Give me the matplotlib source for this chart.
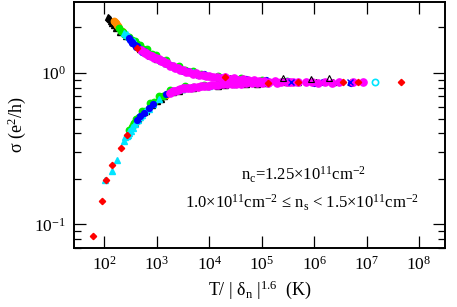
import matplotlib
matplotlib.use("Agg")
import matplotlib.pyplot as plt
from matplotlib.ticker import LogLocator, NullLocator, LogFormatterMathtext

plt.rcParams['font.family'] = ['Liberation Serif', 'DejaVu Serif']
plt.rcParams['mathtext.fontset'] = 'custom'
plt.rcParams['mathtext.rm'] = 'Liberation Serif'
plt.rcParams['mathtext.it'] = 'Liberation Serif:italic'
plt.rcParams['mathtext.bf'] = 'Liberation Serif:bold'

# ---------------- data ----------------
black_x = [118, 122, 127, 133, 140, 150, 170, 200, 260, 350, 480, 700, 1000, 1500, 2200, 3500, 6000,
           1.1e4, 2.5e4, 6e4, 1.3e5, 2.6e5, 5e5, 1.1e6, 2.3e6, 5e6,
           400, 430, 460, 500, 560, 650, 800, 1000, 1400, 2000, 3000, 5000, 9000, 2e4, 5e4, 1.2e5, 3e5,
           380, 420, 620, 1200, 2600, 1.5e4, 8e4]
black_y = [2.33, 2.30, 2.26, 2.21, 2.15, 2.08, 1.97, 1.88, 1.76, 1.60, 1.44, 1.33, 1.24, 1.17, 1.10, 1.04, 0.99,
           0.955, 0.93, 0.905, 0.89, 0.88, 0.872, 0.87, 0.868, 0.867,
           0.49, 0.50, 0.515, 0.53, 0.55, 0.575, 0.61, 0.655, 0.70, 0.745, 0.78, 0.80, 0.815, 0.832, 0.848, 0.858, 0.868,
           0.47, 0.49, 0.56, 0.67, 0.76, 0.82, 0.85]

orange_x = [150, 160, 165, 175, 180, 220, 400, 900, 3000, 2e4, 350, 380, 1500, 6000]
orange_y = [2.22, 2.18, 2.14, 2.09, 2.05, 1.90, 1.52, 1.28, 1.05, 0.94, 0.45, 0.47, 0.72, 0.81]

green_x = [190, 210, 240, 280, 330, 420, 550, 800, 1200, 2000, 3500, 7000, 1.5e4, 4e4, 1e5, 3e5,
           230, 300, 380, 480, 650, 950, 1500, 2600, 5000,
           300, 330, 370, 450, 600, 900, 1300, 2500, 5000, 8000, 1.5e4, 3e4, 7e4,
           400, 520, 750, 1100, 1800, 3500]
green_y = [1.98, 1.90, 1.82, 1.74, 1.66, 1.55, 1.45, 1.34, 1.22, 1.12, 1.05, 0.99, 0.955, 0.92, 0.90, 0.88,
           1.87, 1.73, 1.62, 1.53, 1.43, 1.32, 1.21, 1.12, 1.03,
           0.42, 0.44, 0.47, 0.51, 0.56, 0.64, 0.70, 0.77, 0.81, 0.83, 0.84, 0.85, 0.86,
           0.50, 0.56, 0.63, 0.70, 0.77, 0.82]

cyan_x = [240, 260, 290, 320, 1500, 5000, 2e4, 270, 360,
          105, 138, 172, 237, 280, 300, 320, 350, 390, 440, 520, 700, 1100, 3000, 1e4,
          250, 265, 300, 340, 410, 480, 600, 850]
cyan_y = [1.83, 1.78, 1.72, 1.67, 1.16, 1.01, 0.94, 1.80, 1.62,
          0.196, 0.225, 0.266, 0.357, 0.39, 0.40, 0.415, 0.435, 0.46, 0.49, 0.525, 0.58, 0.67, 0.78, 0.82,
          0.375, 0.385, 0.415, 0.44, 0.48, 0.51, 0.56, 0.62]

blue_x = [290, 310, 340, 380, 420, 480, 560, 650, 800, 1000, 1300, 1800, 2500, 4000, 8000, 2e4, 5e4,
          1.2e5, 3e5, 7e5, 1.5e6, 3e6, 5e6,
          330, 400, 520, 720, 900, 1150, 1600, 2200, 3200, 6000, 1.4e4, 3.5e4, 2e5, 1e6,
          420, 480, 700, 1500, 4000, 1e4, 3e4, 560, 850, 2500]
blue_y = [1.70, 1.66, 1.60, 1.54, 1.50, 1.44, 1.39, 1.35, 1.30, 1.25, 1.19, 1.13, 1.08, 1.03, 0.98, 0.94, 0.915,
          0.895, 0.88, 0.872, 0.868, 0.866, 0.865,
          1.58, 1.48, 1.38, 1.30, 1.25, 1.20, 1.14, 1.08, 1.03, 0.975, 0.935, 0.905, 0.87, 0.862,
          0.49, 0.52, 0.59, 0.73, 0.80, 0.825, 0.845, 0.54, 0.62, 0.77]

magenta_x = [500, 560, 630, 720, 820, 950, 1100, 1300, 1600, 2000, 2500, 3200, 4200, 5500, 7500, 1e4,
             1.4e4, 2e4, 3e4, 4.5e4, 7e4, 1.1e5, 1.8e5, 3e5, 5e5, 9e5, 1.6e6, 3e6, 5.5e6, 8.6e6,
             600, 680, 780, 900, 1050, 1200, 1450, 1800, 2250, 2800, 3600, 4800, 6500, 8700, 1.2e4, 1.7e4,
             2.5e4, 3.7e4, 5.5e4, 9e4, 1.4e5, 2.3e5, 4e5, 7e5, 1.2e6, 2.2e6,
             1800, 2200, 2800, 3500, 4500, 6000, 8000, 1.1e4, 1.5e4, 2.2e4, 3.2e4, 5e4, 8e4, 1.3e5, 2e5, 3.5e5,
             2000, 2500, 3100, 4000, 5200, 7000, 9500, 1.3e4, 1.8e4, 2.7e4, 4e4, 6.5e4, 1e5]
magenta_y = [1.41, 1.38, 1.35, 1.32, 1.29, 1.26, 1.23, 1.20, 1.16, 1.12, 1.08, 1.05, 1.02, 0.995, 0.975, 0.96,
             0.945, 0.935, 0.92, 0.91, 0.90, 0.89, 0.88, 0.875, 0.87, 0.868, 0.867, 0.866, 0.866, 0.866,
             1.36, 1.32, 1.29, 1.26, 1.23, 1.20, 1.16, 1.12, 1.08, 1.05, 1.02, 0.99, 0.965, 0.95, 0.935, 0.925,
             0.915, 0.905, 0.895, 0.885, 0.878, 0.872, 0.868, 0.866, 0.865, 0.865,
             0.74, 0.76, 0.78, 0.79, 0.80, 0.81, 0.82, 0.83, 0.835, 0.842, 0.848, 0.853, 0.858, 0.862, 0.865, 0.867,
             0.76, 0.775, 0.79, 0.80, 0.81, 0.82, 0.826, 0.833, 0.84, 0.846, 0.852, 0.857, 0.861]

red_x = [62, 89, 107, 138, 206, 268, 415, 2e4, 1.3e5, 5e5, 3.5e6, 7e6, 4.6e7]
red_y = [0.084, 0.143, 0.196, 0.246, 0.318, 0.389, 1.46, 0.94, 0.865, 0.868, 0.866, 0.866, 0.867]

bluex_x = [3.7e5, 4.8e6]
bluex_y = [0.868, 0.867]

cyanring_x = [1.45e7]
cyanring_y = [0.867]

blackopen_x = [2.6e5, 8.7e5, 1.9e6]
blackopen_y = [0.92, 0.915, 0.92]

x_ticks = [1e2, 1e3, 1e4, 1e5, 1e6, 1e7, 1e8]
y_ticks = [1e-1, 1e0]
label_nc = r'n$_\mathrm{c}$=1.25×10$^{11}$cm$^{-2}$'
label_ns = r'1.0×10$^{11}$cm$^{-2}$ ≤ n$_\mathrm{s}$ < 1.5×10$^{11}$cm$^{-2}$'

# ---------------- figure ----------------
fig = plt.figure(figsize=(4.57, 3.07), dpi=100)
ax = fig.add_axes([74 / 457, 1 - 247.7 / 307, (445 - 74) / 457, (247.7 - 1.7) / 307])

ms = 4.6
ax.plot(black_x, black_y, ls='none', marker='^', ms=ms, color='black')
ax.plot(orange_x, orange_y, ls='none', marker='o', ms=ms, color='#ff8c00')
ax.plot(green_x, green_y, ls='none', marker='o', ms=ms, color='#00ee00')
ax.plot(cyan_x, cyan_y, ls='none', marker='^', ms=ms, color='#00e5ff')
ax.plot(blue_x, blue_y, ls='none', marker='o', ms=ms - 0.4, color='#0000ff')
ax.plot(magenta_x, magenta_y, ls='none', marker='o', ms=ms + 0.6, color='#ff00ff')
ax.plot(red_x, red_y, ls='none', marker='D', ms=3.2, color='#ff0000')
ax.plot(bluex_x, bluex_y, ls='none', marker='x', ms=4, mew=1, color='#0000ff')
ax.plot(cyanring_x, cyanring_y, ls='none', marker='o', ms=4.5, mfc='none', mew=1.2, mec='#00e5ff')
ax.plot(blackopen_x, blackopen_y, ls='none', marker='^', ms=4, mfc='none', mew=0.8, mec='black')

ax.set_xscale('log')
ax.set_yscale('log')
ax.set_xlim(26.4, 3.13e8)
ax.set_ylim(0.070, 2.96)

ax.set_xticks(x_ticks)
ax.xaxis.set_minor_locator(NullLocator())
ax.xaxis.set_major_formatter(LogFormatterMathtext())
ax.set_yticks(y_ticks)
ax.yaxis.set_minor_locator(LogLocator(base=10, subs=range(2, 10)))
ax.yaxis.set_major_formatter(LogFormatterMathtext())

ax.tick_params(which='both', direction='in', top=True, right=True, labelsize=12.5, colors='black')
ax.tick_params(which='major', length=8.5, width=0.9, pad=6)
ax.tick_params(which='minor', length=5, width=0.9)
ax.tick_params(axis='y', which='minor', labelleft=False)
for s in ax.spines.values():
    s.set_linewidth(1.4)

ax.set_ylabel('σ (e$^2$/h)', fontsize=13, labelpad=4)
ax.set_xlabel(r'T/ | $\mathrm{δ_n}$ |$^{1.6}$  (K)', fontsize=13, labelpad=3)

ax.text(0.618, 0.295, label_nc, transform=ax.transAxes, ha='center', va='center', fontsize=12)
ax.text(0.613, 0.182, label_ns, transform=ax.transAxes, ha='center', va='center', fontsize=12)

fig.savefig('out.png', dpi=100)
